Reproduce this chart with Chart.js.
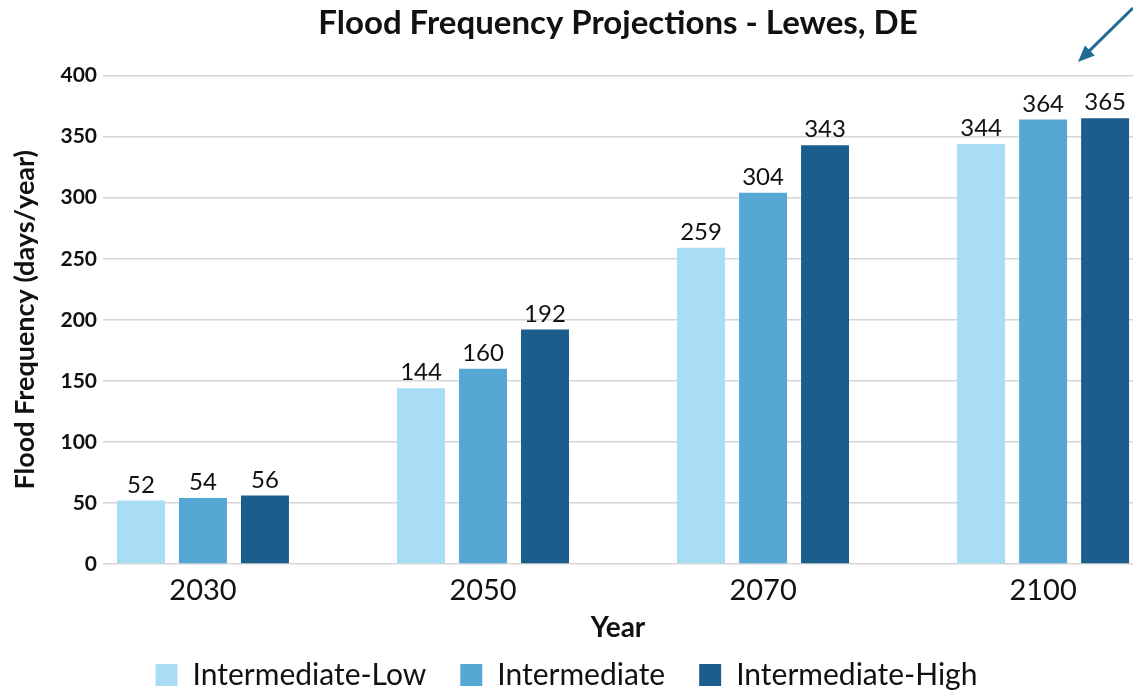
<!DOCTYPE html>
<html>
<head>
<meta charset="utf-8">
<title>Flood Frequency Projections - Lewes, DE</title>
<script src="https://cdn.jsdelivr.net/npm/chart.js@4.4.1/dist/chart.umd.min.js"></script>
<style>
  html, body { margin: 0; padding: 0; background: #fff; }
  #wrap { width: 1133px; height: 700px; position: relative; }
</style>
</head>
<body>
<div id="wrap"><canvas id="myChart"></canvas></div>
<script>
// data
var years = ["2030", "2050", "2070", "2100"];
var seriesNames = ["Intermediate-Low", "Intermediate", "Intermediate-High"];
var lowVals = [52, 144, 259, 344];
var midVals = [54, 160, 304, 364];
var highVals = [56, 192, 343, 365];

var colors = ["#a9dcf5", "#56a8d4", "#1b5e8e"];
var textColor = "#111111";

function toPoints(vals) {
  return vals.map(function (v, i) { return { x: i, y: v }; });
}

// value labels on top of every bar
var barLabels = {
  id: "barLabels",
  afterDatasetsDraw: function (chart) {
    var ctx = chart.ctx;
    ctx.save();
    ctx.font = "24px Lato";
    ctx.fillStyle = textColor;
    ctx.textAlign = "center";
    ctx.textBaseline = "alphabetic";
    chart.data.datasets.forEach(function (ds, i) {
      chart.getDatasetMeta(i).data.forEach(function (bar, j) {
        ctx.fillText(ds.data[j].y, bar.x, bar.y - 8);
      });
    });
    ctx.restore();
  },
};

// the blue pointer arrow in the top right corner
var cornerArrow = {
  id: "cornerArrow",
  afterDraw: function (chart) {
    var ctx = chart.ctx;
    var x0 = chart.width, y0 = 8;
    var x1 = chart.width - 55, y1 = 62;
    var ang = Math.atan2(y1 - y0, x1 - x0);
    ctx.save();
    ctx.strokeStyle = "#1f6a93";
    ctx.fillStyle = "#1f6a93";
    ctx.lineWidth = 3;
    ctx.beginPath();
    ctx.moveTo(x0, y0);
    ctx.lineTo(x1 + 8 * Math.cos(ang + Math.PI), y1 + 8 * Math.sin(ang + Math.PI));
    ctx.stroke();
    ctx.beginPath();
    ctx.moveTo(x1, y1);
    ctx.lineTo(x1 - 18 * Math.cos(ang - 0.4), y1 - 18 * Math.sin(ang - 0.4));
    ctx.lineTo(x1 - 18 * Math.cos(ang + 0.4), y1 - 18 * Math.sin(ang + 0.4));
    ctx.closePath();
    ctx.fill();
    ctx.restore();
  },
};

Chart.defaults.font.family = "Lato";
Chart.defaults.color = textColor;

var ctx = document.getElementById("myChart").getContext("2d");
var chart = new Chart(ctx, {
  type: "bar",
  data: {
    datasets: [
      { label: seriesNames[0], data: toPoints(lowVals), backgroundColor: colors[0] },
      { label: seriesNames[1], data: toPoints(midVals), backgroundColor: colors[1] },
      { label: seriesNames[2], data: toPoints(highVals), backgroundColor: colors[2] },
    ],
  },
  options: {
    responsive: true,
    maintainAspectRatio: false,
    animation: false,
    categoryPercentage: 0.664,
    barPercentage: 0.774,
    layout: { padding: 0 },
    scales: {
      x: {
        type: "linear",
        offset: false,
        bounds: "data",
        min: -0.357,
        max: 3.321,
        afterBuildTicks: function (scale) {
          scale.ticks = years.map(function (y, i) { return { value: i }; });
        },
        afterFit: function (scale) { scale.height = 62; },
        grid: { display: false, drawTicks: false, offset: false },
        border: { display: false },
        ticks: {
          autoSkip: false,
          maxRotation: 0,
          padding: 9,
          font: { size: 29 },
          color: textColor,
          callback: function (v) { return years[Math.round(v)]; },
        },
        title: {
          display: true,
          text: "Year",
          font: { size: 28, weight: "bold" },
          color: textColor,
          padding: { top: 0, bottom: -19 },
        },
      },
      y: {
        min: 0,
        max: 400,
        z: 1,
        afterFit: function (scale) { scale.width = 103; },
        grid: { color: "rgba(200,200,200,0.75)", lineWidth: 1.5, drawTicks: false },
        border: { display: false },
        ticks: {
          stepSize: 50,
          padding: 6,
          font: { size: 21, weight: "bold" },
          color: textColor,
        },
        title: {
          display: true,
          text: "Flood Frequency (days/year)",
          font: { size: 27, weight: "bold" },
          color: textColor,
          padding: { top: 9, bottom: 0 },
        },
      },
    },
    plugins: {
      title: {
        display: true,
        text: "Flood Frequency Projections - Lewes, DE",
        fullSize: false,
        font: { size: 33, weight: "bold" },
        color: textColor,
        padding: { top: 4, bottom: 32 },
      },
      legend: {
        position: "bottom",
        labels: {
          boxWidth: 22,
          boxHeight: 22,
          padding: 34,
          font: { size: 30 },
          color: textColor,
        },
      },
      tooltip: { enabled: false },
    },
  },
  plugins: [barLabels, cornerArrow],
});
</script>
</body>
</html>
